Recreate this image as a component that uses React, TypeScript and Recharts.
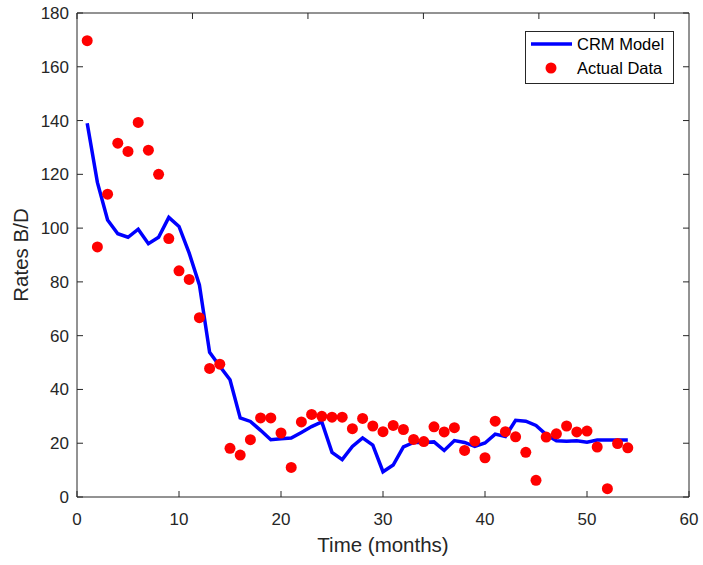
import React from 'react';
import { ComposedChart, Line, Scatter, XAxis, YAxis, Legend } from 'recharts';

const months = [1, 2, 3, 4, 5, 6, 7, 8, 9, 10, 11, 12, 13, 14, 15, 16, 17, 18, 19, 20, 21, 22, 23, 24, 25, 26, 27, 28, 29, 30, 31, 32, 33, 34, 35, 36, 37, 38, 39, 40, 41, 42, 43, 44, 45, 46, 47, 48, 49, 50, 51, 52, 53, 54];

const crmModel = [139, 117, 103, 97.9, 96.6, 99.6, 94.2, 96.6, 104, 100.6, 90.7, 78.9, 53.8, 48.6, 43.6, 29.4, 28.1, 24.8, 21.3, 21.7, 21.9, 24, 26.2, 27.9, 16.6, 13.9, 18.8, 22, 19.3, 9.4, 11.9, 18.6, 20.3, 20.3, 20.5, 17.3, 21, 20.3, 18.8, 20.1, 23.4, 22.5, 28.5, 28.2, 26.6, 23.2, 20.9, 20.7, 20.9, 20.4, 21.2, 21.2, 21.2, 21.2];

const actualData = [169.7, 93, 112.6, 131.6, 128.5, 139.3, 129, 120, 96.1, 84.1, 80.9, 66.7, 47.8, 49.4, 18.1, 15.6, 21.3, 29.4, 29.4, 23.8, 11, 27.9, 30.7, 30, 29.7, 29.7, 25.4, 29.2, 26.4, 24.3, 26.6, 25.1, 21.4, 20.6, 26.1, 24.2, 25.8, 17.3, 20.8, 14.6, 28.2, 24.3, 22.4, 16.6, 6.2, 22.3, 23.5, 26.4, 24.2, 24.5, 18.6, 3.1, 19.9, 18.3];

const xTicks = [0, 10, 20, 30, 40, 50, 60];
const yTicks = [0, 20, 40, 60, 80, 100, 120, 140, 160, 180];

const seriesNames = ['CRM Model', 'Actual Data'];
const xLabel = 'Time (months)';
const yLabel = 'Rates B/D';

const data = months.map((t, i) => ({ t, crm: crmModel[i], actual: actualData[i] }));

const FONT = '"Liberation Sans", Arial, Helvetica, sans-serif';
const AXIS = '#262626';

const tickStyle = { fill: AXIS, fontSize: 17, fontFamily: FONT };
const EmptyTick = () => <g />;

const LegendBox = () => (
  <svg width={149} height={53} style={{ display: 'block' }}>
    <rect x={0.5} y={0.5} width={148} height={52} fill="#fff" stroke={AXIS} strokeWidth={1} />
    <line x1={6} y1={13} x2={47} y2={13} stroke="#0000ff" strokeWidth={3.5} />
    <text x={52} y={13} dominantBaseline="central" fontSize={16.5} fontFamily={FONT} fill="#000">{seriesNames[0]}</text>
    <circle cx={26} cy={37} r={5.5} fill="#ff0000" />
    <text x={52} y={37} dominantBaseline="central" fontSize={16.5} fontFamily={FONT} fill="#000">{seriesNames[1]}</text>
  </svg>
);

const YLabel = (props: any) => {
  const vb = props.viewBox || { x: 0, y: 0, width: 77, height: 485 };
  const cx = vb.x + 20;
  const cy = vb.y + vb.height / 2;
  return (
    <text x={cx} y={cy} transform={`rotate(-90 ${cx} ${cy})`} textAnchor="middle" dominantBaseline="central" fontSize={20.5} fontFamily={FONT} fill={AXIS}>
      {yLabel}
    </text>
  );
};

const XLabel = (props: any) => {
  const vb = props.viewBox || { x: 77, y: 497, width: 612, height: 68 };
  const cx = vb.x + vb.width / 2;
  return (
    <text x={cx} y={vb.y + 55} textAnchor="middle" fontSize={20.5} fontFamily={FONT} fill={AXIS}>
      {xLabel}
    </text>
  );
};

const Dot = (props: any) => {
  if (props.cx == null || props.cy == null) return null;
  return <circle cx={props.cx} cy={props.cy} r={5.5} fill="#ff0000" />;
};

export default function App() {
  return (
    <div style={{ position: 'absolute', left: 0, top: 0, width: 703, height: 565, background: '#fff' }}>
      <ComposedChart width={703} height={565} data={data} margin={{ top: 12, right: 13, bottom: 0, left: 0 }}>
        <XAxis
          dataKey="t"
          type="number"
          domain={[0, 60]}
          ticks={xTicks}
          interval={0}
          allowDataOverflow
          height={68}
          stroke={AXIS}
          tickSize={-6}
          tickMargin={22}
          tick={tickStyle}
          label={{ content: XLabel }}
        />
        <XAxis
          xAxisId="top"
          orientation="top"
          type="number"
          domain={[0, 60]}
          ticks={xTicks}
          interval={0}
          allowDataOverflow
          height={1}
          stroke={AXIS}
          tickSize={-6}
          tick={EmptyTick}
        />
        <YAxis
          type="number"
          domain={[0, 180]}
          ticks={yTicks}
          interval={0}
          allowDataOverflow
          width={77}
          stroke={AXIS}
          tickSize={-6}
          tickMargin={14}
          tick={tickStyle}
          label={{ content: YLabel }}
        />
        <YAxis
          yAxisId="right"
          orientation="right"
          type="number"
          domain={[0, 180]}
          ticks={yTicks}
          interval={0}
          allowDataOverflow
          width={1}
          stroke={AXIS}
          tickSize={-6}
          tick={EmptyTick}
        />
        <Line
          dataKey="crm"
          stroke="#0000ff"
          strokeWidth={3.5}
          dot={false}
          activeDot={false}
          type="linear"
          isAnimationActive={false}
        />
        <Scatter dataKey="actual" fill="#ff0000" shape={Dot} isAnimationActive={false} />
        <Legend
          layout="vertical"
          align="center"
          verticalAlign="middle"
          wrapperStyle={{ left: 525, top: 31, width: 149, height: 53 }}
          content={() => <LegendBox />}
        />
      </ComposedChart>
    </div>
  );
}
